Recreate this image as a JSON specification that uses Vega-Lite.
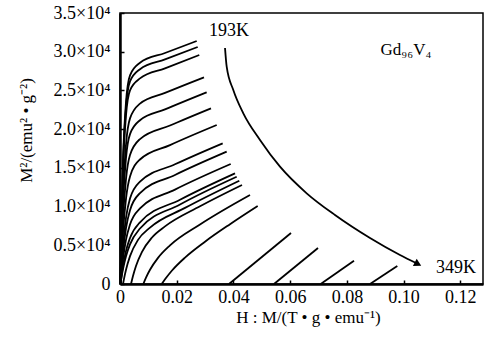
{
  "$schema": "https://vega.github.io/schema/vega-lite/v6.json",
  "autosize": "none",
  "width": 363,
  "height": 271,
  "padding": {"left": 120, "top": 13, "right": 6, "bottom": 53},
  "background": "white",
  "config": {
    "view": {"stroke": "black", "strokeWidth": 1.5},
    "font": "Liberation Serif",
    "axis": {"labelFont": "Liberation Serif", "titleFont": "Liberation Serif", "labelColor": "black", "titleColor": "black", "domainColor": "black", "tickColor": "black", "grid": false, "labelFontWeight": "normal", "titleFontWeight": "normal"}
  },
  "datasets": {
    "curves": [
      {"s":"c1","x":0.00018,"y":0},{"s":"c1","x":0.00053,"y":7904},{"s":"c1","x":0.00106,"y":15769},{"s":"c1","x":0.00212,"y":23505},{"s":"c1","x":0.00353,"y":26954},{"s":"c1","x":0.00705,"y":28568},{"s":"c1","x":0.01587,"y":29834},{"s":"c1","x":0.02705,"y":31384},
      {"s":"c2","x":0.00018,"y":0},{"s":"c2","x":0.00053,"y":7672},{"s":"c2","x":0.00106,"y":15291},{"s":"c2","x":0.00212,"y":22808},{"s":"c2","x":0.00353,"y":26166},{"s":"c2","x":0.00705,"y":27742},{"s":"c2","x":0.01587,"y":29007},{"s":"c2","x":0.0274,"y":30609},
      {"s":"c3","x":0.00018,"y":0},{"s":"c3","x":0.00053,"y":7336},{"s":"c3","x":0.00106,"y":14620},{"s":"c3","x":0.00212,"y":21788},{"s":"c3","x":0.00353,"y":25017},{"s":"c3","x":0.00705,"y":26554},{"s":"c3","x":0.01587,"y":27845},{"s":"c3","x":0.02796,"y":29576},
      {"s":"c4","x":0.00018,"y":0},{"s":"c4","x":0.00053,"y":5631},{"s":"c4","x":0.00106,"y":11572},{"s":"c4","x":0.00212,"y":18017},{"s":"c4","x":0.00353,"y":21387},{"s":"c4","x":0.00705,"y":23299},{"s":"c4","x":0.01587,"y":24681},{"s":"c4","x":0.02962,"y":26696},
      {"s":"c5","x":0.00018,"y":0},{"s":"c5","x":0.00053,"y":5089},{"s":"c5","x":0.00106,"y":10448},{"s":"c5","x":0.00212,"y":16299},{"s":"c5","x":0.00353,"y":19360},{"s":"c5","x":0.00705,"y":21155},{"s":"c5","x":0.01587,"y":22550},{"s":"c5","x":0.03057,"y":24758},
      {"s":"c6","x":0.00018,"y":0},{"s":"c6","x":0.00053,"y":4004},{"s":"c6","x":0.00106,"y":8421},{"s":"c6","x":0.00212,"y":13587},{"s":"c6","x":0.00353,"y":16648},{"s":"c6","x":0.00705,"y":18714},{"s":"c6","x":0.01763,"y":20470},{"s":"c6","x":0.03209,"y":22692},
      {"s":"c7","x":0.00018,"y":0},{"s":"c7","x":0.00053,"y":3100},{"s":"c7","x":0.00106,"y":6625},{"s":"c7","x":0.00212,"y":11030},{"s":"c7","x":0.00353,"y":13884},{"s":"c7","x":0.00705,"y":16079},{"s":"c7","x":0.01763,"y":17939},{"s":"c7","x":0.0341,"y":20535},
      {"s":"c8","x":0.00018,"y":0},{"s":"c8","x":0.00053,"y":2325},{"s":"c8","x":0.00106,"y":5024},{"s":"c8","x":0.00212,"y":8563},{"s":"c8","x":0.00353,"y":11055},{"s":"c8","x":0.00705,"y":13225},{"s":"c8","x":0.01939,"y":15459},{"s":"c8","x":0.03621,"y":18172},
      {"s":"c9","x":0.00018,"y":0},{"s":"c9","x":0.00053,"y":1899},{"s":"c9","x":0.00106,"y":4146},{"s":"c9","x":0.00212,"y":7232},{"s":"c9","x":0.00353,"y":9531},{"s":"c9","x":0.00705,"y":11740},{"s":"c9","x":0.01939,"y":14077},{"s":"c9","x":0.03762,"y":17087},
      {"s":"c10","x":0.00018,"y":0},{"s":"c10","x":0.00053,"y":1459},{"s":"c10","x":0.00106,"y":3216},{"s":"c10","x":0.00212,"y":5721},{"s":"c10","x":0.00353,"y":7685},{"s":"c10","x":0.00705,"y":9764},{"s":"c10","x":0.01939,"y":12192},{"s":"c10","x":0.03904,"y":15498},
      {"s":"c11","x":0.00018,"y":0},{"s":"c11","x":0.00053,"y":1046},{"s":"c11","x":0.00106,"y":2338},{"s":"c11","x":0.00212,"y":4275},{"s":"c11","x":0.00353,"y":5941},{"s":"c11","x":0.00705,"y":7969},{"s":"c11","x":0.02116,"y":10887},{"s":"c11","x":0.04055,"y":14297},
      {"s":"c12","x":0.00018,"y":0},{"s":"c12","x":0.00053,"y":852},{"s":"c12","x":0.00106,"y":1924},{"s":"c12","x":0.00212,"y":3590},{"s":"c12","x":0.00353,"y":5127},{"s":"c12","x":0.00705,"y":7168},{"s":"c12","x":0.02116,"y":10268},{"s":"c12","x":0.04115,"y":13858},
      {"s":"c13","x":0.00106,"y":0},{"s":"c13","x":0.00141,"y":672},{"s":"c13","x":0.00212,"y":1847},{"s":"c13","x":0.00353,"y":3603},{"s":"c13","x":0.00635,"y":5696},{"s":"c13","x":0.01058,"y":7284},{"s":"c13","x":0.02292,"y":9828},{"s":"c13","x":0.04207,"y":13341},
      {"s":"c14","x":0.00388,"y":0},{"s":"c14","x":0.00458,"y":1033},{"s":"c14","x":0.00564,"y":2325},{"s":"c14","x":0.00776,"y":4146},{"s":"c14","x":0.01128,"y":6006},{"s":"c14","x":0.01587,"y":7439},{"s":"c14","x":0.02821,"y":10035},{"s":"c14","x":0.04302,"y":12786},
      {"s":"c15","x":0.00822,"y":0},{"s":"c15","x":0.00917,"y":827},{"s":"c15","x":0.01058,"y":1834},{"s":"c15","x":0.0134,"y":3371},{"s":"c15","x":0.01763,"y":4985},{"s":"c15","x":0.02821,"y":7684},{"s":"c15","x":0.04584,"y":11494},
      {"s":"c16","x":0.0147,"y":0},{"s":"c16","x":0.01587,"y":607},{"s":"c16","x":0.01834,"y":1744},{"s":"c16","x":0.02292,"y":3410},{"s":"c16","x":0.02997,"y":5463},{"s":"c16","x":0.03879,"y":7723},{"s":"c16","x":0.04856,"y":10074},
      {"s":"c17","x":0.03844,"y":0},{"s":"c17","x":0.0603,"y":6587},
      {"s":"c18","x":0.0543,"y":0},{"s":"c18","x":0.06982,"y":4649},
      {"s":"c19","x":0.07077,"y":0},{"s":"c19","x":0.08251,"y":3009},
      {"s":"c20","x":0.08816,"y":0},{"s":"c20","x":0.09778,"y":2325},
      {"s":"arrow","x":0.03703,"y":30480},{"s":"arrow","x":0.03762,"y":28065},{"s":"arrow","x":0.03995,"y":25055},{"s":"arrow","x":0.04348,"y":22046},{"s":"arrow","x":0.04937,"y":18598},{"s":"arrow","x":0.05642,"y":15149},{"s":"arrow","x":0.06583,"y":11714},{"s":"arrow","x":0.07581,"y":8911},{"s":"arrow","x":0.08816,"y":5941},{"s":"arrow","x":0.09873,"y":3745},{"s":"arrow","x":0.10438,"y":2712}
    ],
    "head": [{"x":0.10508,"y":2583}],
    "labels": [
      {"t":"193K","x":0.03844,"y":32675,"fs":18},
      {"t":"349K","x":0.11848,"y":2002,"fs":18},
      {"t":"Gd₉₆V₄","x":0.10085,"y":30221,"fs":17}
    ]
  },
  "encoding": {
    "x": {"field": "x", "type": "quantitative",
      "scale": {"domain": [0, 0.128], "nice": false, "zero": false},
      "axis": {"values": [0, 0.02, 0.04, 0.06, 0.08, 0.1, 0.12],
        "labelExpr": "datum.value == 0 ? '0' : format(datum.value, '.2f')",
        "labelFontSize": 18, "labelFlush": false, "labelPadding": 8,
        "tickSize": -4, "tickWidth": 1.5, "domainWidth": 2.5,
        "title": "H : M/(T • g • emu⁻¹)", "titleFontSize": 17, "titlePadding": 3, "titleX": 188}},
    "y": {"field": "y", "type": "quantitative",
      "scale": {"domain": [0, 35000], "nice": false, "zero": false},
      "axis": {"values": [0, 5000, 10000, 15000, 20000, 25000, 30000, 35000],
        "labelExpr": "datum.value == 0 ? '0' : format(datum.value / 10000, '.1f') + '×10⁴'",
        "labelFontSize": 18, "labelFlush": false, "labelPadding": 14,
        "tickSize": -4, "tickWidth": 1.5, "domainWidth": 2.5,
        "title": "M²/(emu² • g⁻²)", "titleFontSize": 17, "titlePadding": 18, "titleY": 117}}
  },
  "layer": [
    {"data": {"name": "curves"},
     "mark": {"type": "line", "color": "black", "strokeWidth": 1.8, "interpolate": "monotone"},
     "encoding": {"detail": {"field": "s", "type": "nominal"}}},
    {"data": {"name": "head"},
     "mark": {"type": "point", "shape": "triangle-right", "angle": 27, "size": 70, "filled": true, "color": "black", "opacity": 1}},
    {"data": {"name": "labels"},
     "mark": {"type": "text", "color": "black", "font": "Liberation Serif", "align": "center", "baseline": "middle"},
     "encoding": {"text": {"field": "t"}, "size": {"field": "fs", "type": "quantitative", "scale": null}}}
  ]
}
